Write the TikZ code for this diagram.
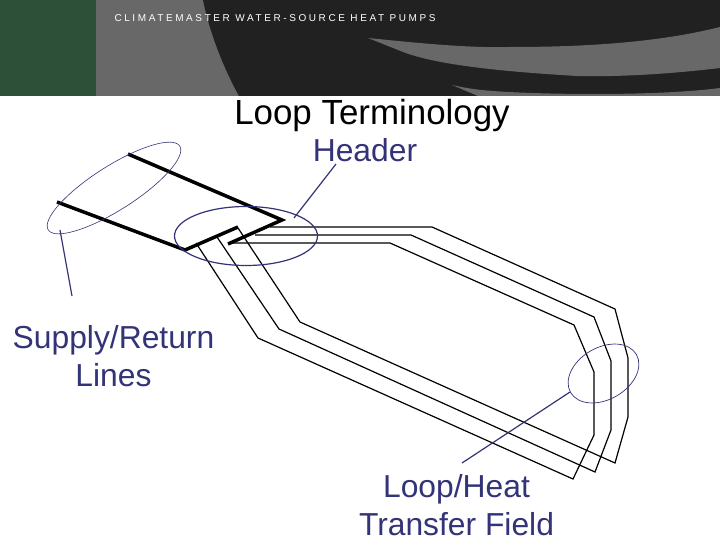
\documentclass[tikz,border=0pt]{standalone}
\usepackage{fontspec}
\setmainfont{Liberation Sans}
\usetikzlibrary{shapes.geometric}
\definecolor{hdgreen}{HTML}{2D5138}
\definecolor{hdgray}{HTML}{686868}
\definecolor{hddark}{HTML}{212121}
\definecolor{navy}{HTML}{333378}
\tikzset{
  pipe/.style={draw=black,line width=1.2pt,line join=miter},
  heavy pipe/.style={draw=black,line width=3.5pt,line join=miter},
  ring/.style={draw=navy,ellipse,inner sep=0pt,outer sep=0pt},
  leader/.style={draw=navy,line width=1.2pt},
  lab/.style={font=\fontsize{31.8}{38}\selectfont,align=center,inner sep=0pt,text=navy},
}
\begin{document}
\begin{tikzpicture}[x=1pt,y=-1pt]
\useasboundingbox (0,0) rectangle (720,540);
\fill[white] (0,0) rectangle (720,540);
% header band
\fill[hdgray] (96,0) rectangle (720,96);
\fill[hdgreen] (0,0) rectangle (96,96);
\fill[hddark] (203,0) .. controls (209,30) and (222,65) .. (239,96) -- (720,96) -- (720,0) -- cycle;
\fill[hdgray] (368,38) .. controls (427,44) and (470,48) .. (510,47) .. controls (590,47) and (660,42) .. (720,27) -- (720,68) .. controls (670,74) and (620,77) .. (577,76) .. controls (510,72) and (440,66) .. (403,52) -- cycle;
\fill[hdgray] (452,85) .. controls (470,89) and (480,90) .. (493,91) .. controls (530,94) and (650,97) .. (720,88) -- (720,96) -- (478,96) -- cycle;
\node[text=white,font=\fontsize{10}{11}\selectfont\addfontfeature{LetterSpace=26},inner sep=0pt] (brand) at (275,18) {CLIMATEMASTER WATER-SOURCE HEAT PUMPS};
% titles
\node[font=\fontsize{34.9}{40}\selectfont,inner sep=0pt] (title) at (372,115.5) {Loop Terminology};
\node[lab] (header) at (365,150) {Header};
\node[lab] (supply) at (113.5,356) {Supply/Return\\Lines};
\node[lab] (field) at (456.5,505) {Loop/Heat\\Transfer Field};
% thin pipes
\coordinate (a1) at (238,228); \coordinate (a2) at (300,322); \coordinate (a3) at (615,463);
\coordinate (a4) at (628,417); \coordinate (a5) at (628,358); \coordinate (a6) at (615,309);
\coordinate (a7) at (432,227); \coordinate (a8) at (270,227);
\coordinate (b1) at (217,237); \coordinate (b2) at (279,329); \coordinate (b3) at (595,472);
\coordinate (b4) at (611,430); \coordinate (b5) at (611,361); \coordinate (b6) at (594,317);
\coordinate (b7) at (411,235); \coordinate (b8) at (255,235);
\coordinate (c1) at (196,243); \coordinate (c2) at (258,338); \coordinate (c3) at (573,479);
\coordinate (c4) at (594,435); \coordinate (c5) at (594,372); \coordinate (c6) at (574,325);
\coordinate (c7) at (390,243); \coordinate (c8) at (228,243);
\draw[pipe] (a1)--(a2)--(a3)--(a4)--(a5)--(a6)--(a7)--(a8);
\draw[pipe] (b1)--(b2)--(b3)--(b4)--(b5)--(b6)--(b7)--(b8);
\draw[pipe] (c1)--(c2)--(c3)--(c4)--(c5)--(c6)--(c7)--(c8);
% heavy pipes
\coordinate (s1) at (128,154); \coordinate (s2) at (282,220); \coordinate (s3) at (228,244);
\coordinate (r1) at (57,202); \coordinate (r2) at (185,250); \coordinate (r3) at (238,227);
\draw[heavy pipe] (s1)--(s2)--(s3);
\draw[heavy pipe] (r1)--(r2)--(r3);
% rings
\node[ring,line width=0.6pt,minimum width=156pt,minimum height=44pt,rotate=32.5] (e1) at (114,188) {};
\node[ring,line width=1.2pt,minimum width=143pt,minimum height=59pt] (e2) at (246,236) {};
\node[ring,line width=0.7pt,minimum width=76pt,minimum height=52pt,rotate=30] (e3) at (603.5,373.5) {};
% leaders
\coordinate (l1) at (60,230); \coordinate (l2) at (72,296);
\coordinate (h1) at (294,218); \coordinate (h2) at (336,164);
\coordinate (f1) at (570,392); \coordinate (f2) at (462,463);
\draw[leader] (l1)--(l2);
\draw[leader] (h1)--(h2);
\draw[leader] (f1)--(f2);
\end{tikzpicture}
\end{document}
